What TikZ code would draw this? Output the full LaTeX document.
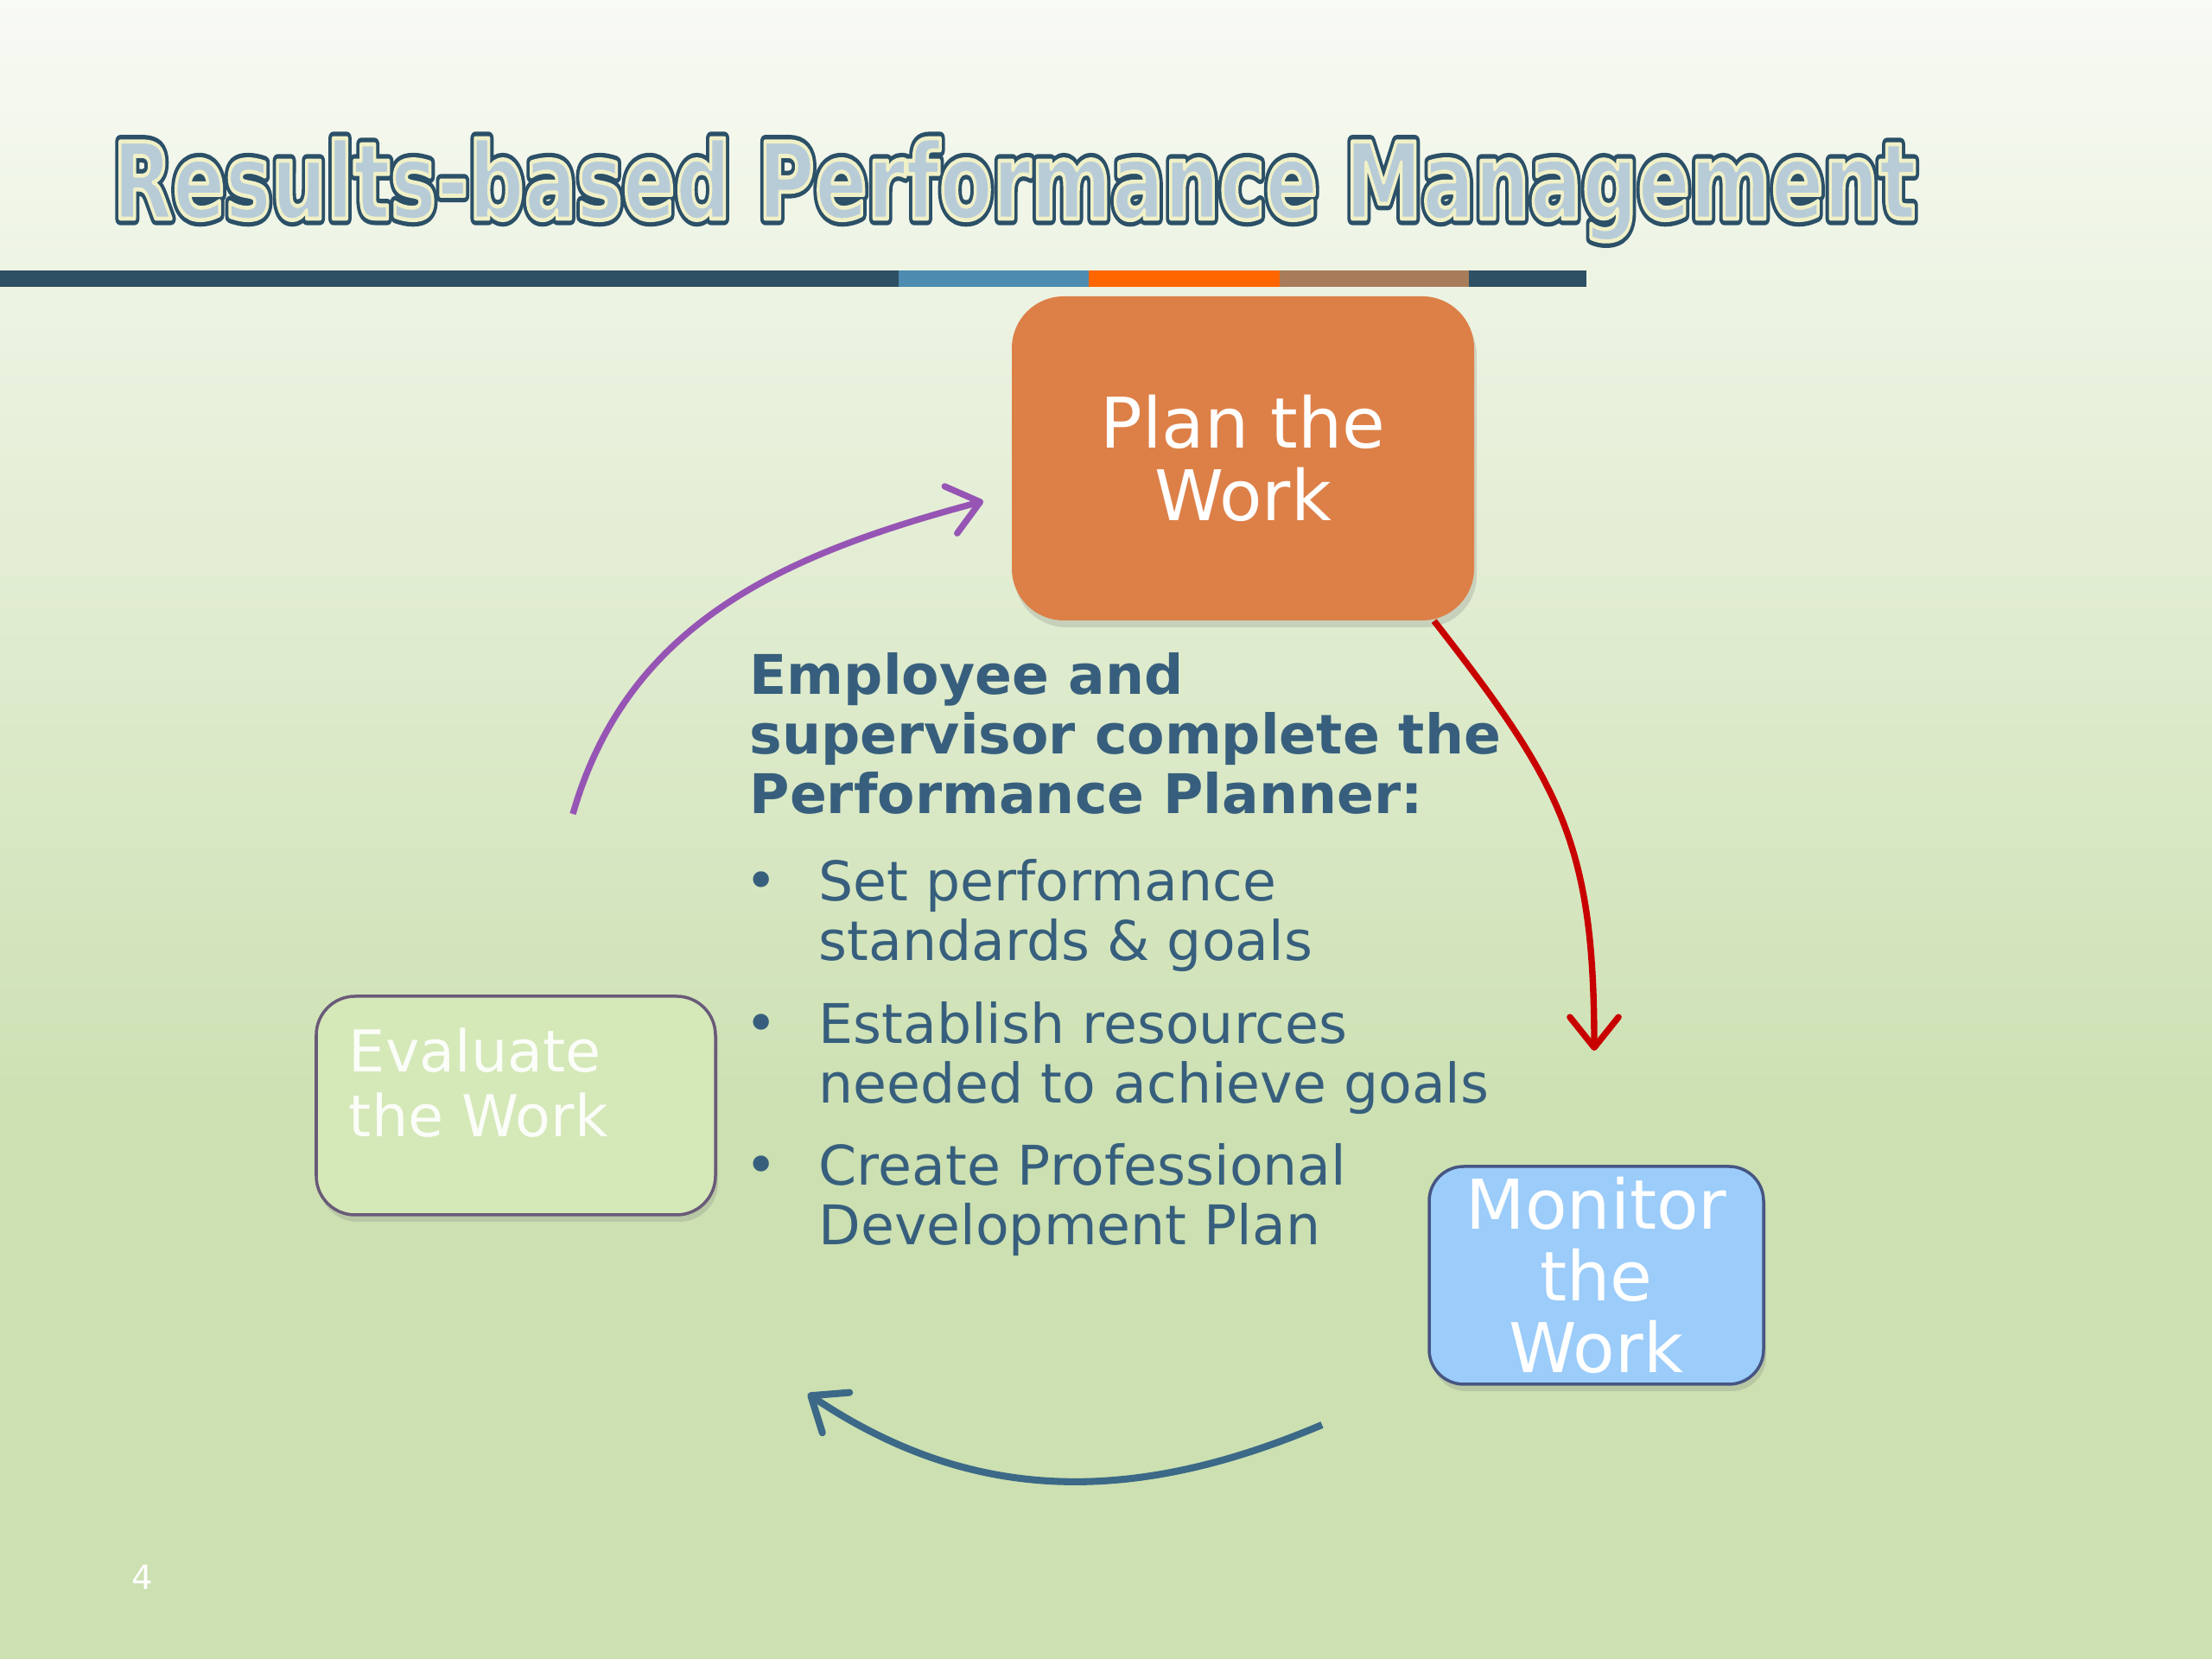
\documentclass[tikz,border=0pt]{standalone}
\usepackage{fontspec}
\setmainfont{DejaVu Sans}
\usetikzlibrary{positioning, arrows.meta, shadows}
\definecolor{bgtop}{RGB}{248,250,244}
\definecolor{bgbot}{RGB}{204,224,177}
\definecolor{bardark}{RGB}{45,80,100}
\definecolor{barblue}{RGB}{77,139,176}
\definecolor{barorange}{RGB}{255,102,0}
\definecolor{barbrown}{RGB}{168,124,90}
\definecolor{titlecream}{RGB}{240,240,200}
\definecolor{titlefill}{RGB}{184,204,216}
\definecolor{planorange}{RGB}{221,128,72}
\definecolor{evalgreen}{RGB}{213,232,184}
\definecolor{evalborder}{RGB}{105,90,120}
\definecolor{monblue}{RGB}{155,204,250}
\definecolor{monborder}{RGB}{70,85,130}
\definecolor{textblue}{RGB}{55,95,125}
\definecolor{arrpurple}{RGB}{150,85,180}
\definecolor{arrred}{RGB}{200,0,0}
\definecolor{arrblue}{RGB}{60,105,135}
\newcommand{\titlestring}{Results-based Performance Management}
\newcommand{\outlinetext}[3]{\special{pdf:literal direct 2 Tr 1 j #1 w #2 RG}#3\special{pdf:literal direct 0 Tr}}

\begin{document}
\begin{tikzpicture}[
  stagebox/.style={rounded corners=0.5cm, align=center, text=white, inner sep=0pt,
    drop shadow={opacity=0.25, shadow xshift=0.03cm, shadow yshift=-0.08cm}},
  cyclearrow/.style={line width=2.1pt, -{Straight Barb[length=10pt,width=16pt,round]}},
  plannertext/.style={text=textblue, align=left, inner sep=0pt, anchor=north west,
    font=\fontsize{18}{19.6}\selectfont},
  bulletmark/.style={text=textblue, inner sep=0pt, anchor=base west,
    font=\fontsize{18}{19.6}\selectfont},
  titletext/.style={anchor=base west, inner sep=0pt}]
 \useasboundingbox (0,0) rectangle (25.6,19.2);
 \shade[top color=bgtop, bottom color=bgbot] (0,6) rectangle (25.6,19.2);
 \fill[bgbot] (0,0) rectangle (25.6,6.02);
 \fill[bardark]   (0,15.88)     rectangle (10.40,16.07);
 \fill[barblue]   (10.40,15.88) rectangle (12.60,16.07);
 \fill[barorange] (12.60,15.88) rectangle (14.81,16.07);
 \fill[barbrown]  (14.81,15.88) rectangle (17.00,16.07);
 \fill[bardark]   (17.00,15.88) rectangle (18.36,16.07);
 \node[titletext] (title) at (1.30,16.67)
  {\resizebox{20.87cm}{0.93cm}{\fontsize{34}{40}\selectfont\bfseries
   \textcolor{titlecream}{\outlinetext{4.2}{0.169 0.314 0.408}{\titlestring}}}};
 \node[titletext] (titleface) at (1.30,16.67)
  {\resizebox{20.87cm}{0.93cm}{\fontsize{34}{40}\selectfont\bfseries
   \textcolor{titlefill}{\outlinetext{1.3}{0.941 0.941 0.784}{\titlestring}}}};
 \node[stagebox, fill=planorange, rounded corners=0.6cm, minimum width=5.35cm, minimum height=3.75cm,
   font=\fontsize{23}{24}\selectfont] (plan) at (14.385,13.895) {Plan the\\Work};
 \node[stagebox, fill=evalgreen, draw=evalborder, line width=1pt, rounded corners=0.45cm,
   minimum width=4.62cm, minimum height=2.53cm] (eval) at (5.97,6.405) {};
 \node[anchor=north west, inner sep=0pt, align=left, text=white!90!evalgreen,
   font=\fontsize{19}{21.3}\selectfont] (evaltext) at ([xshift=0.39cm,yshift=-0.38cm]eval.north west) {Evaluate\\the Work};
 \node[stagebox, fill=monblue, draw=monborder, line width=1pt, rounded corners=0.4cm,
   minimum width=3.87cm, minimum height=2.52cm, font=\fontsize{22.6}{23.6}\selectfont] (monitor) at (18.475,4.44) {Monitor\\the\\Work};
 \node[plannertext, font=\bfseries\fontsize{18}{19.6}\selectfont] (planner) at (8.67,11.65)
  {Employee and\\supervisor complete the\\Performance Planner:};
 \node[plannertext] (goals) at (9.47,9.26) {Set performance\\standards \& goals};
 \node[plannertext] (resources) at (9.47,7.61) {Establish resources\\needed to achieve goals};
 \node[plannertext] (pdp) at (9.47,5.97) {Create Professional\\Development Plan};
 \node[bulletmark] (dot1) at (8.62,8.78) {•};
 \node[bulletmark] (dot2) at (8.62,7.13) {•};
 \node[bulletmark] (dot3) at (8.62,5.49) {•};
 \node[text=white, font=\fontsize{11}{13}\selectfont] (pagenum) at (1.65,0.95) {4};
 \coordinate (evalout) at (6.63,9.78);
 \coordinate (planin) at (11.38,13.40);
 \coordinate (planout) at ([xshift=-0.47cm]plan.south east);
 \coordinate (monin) at (18.45,7.04);
 \coordinate (monout) at (15.30,2.71);
 \coordinate (evalin) at (9.35,3.07);
 \draw[cyclearrow, arrpurple] (evalout) to[out=74, in=195] (planin);
 \draw[cyclearrow, arrred] (planout) to[out=-52, in=90, looseness=1.15] (monin);
 \draw[cyclearrow, arrblue, line width=2.3pt] (monout) to[out=203, in=-34] (evalin);
\end{tikzpicture}
\end{document}
